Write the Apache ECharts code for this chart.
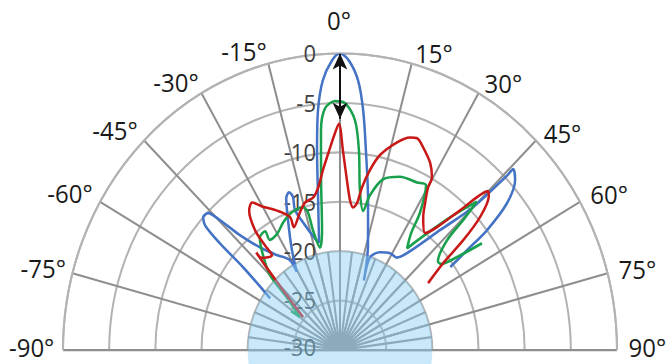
<!DOCTYPE html>
<html>
<head>
<meta charset="utf-8">
<script src="https://cdn.jsdelivr.net/npm/echarts@6/dist/echarts.min.js"></script>
<style>
html,body{margin:0;padding:0;background:#fff;overflow:hidden;}
#wrap{width:666px;height:364px;overflow:hidden;position:relative;}
#c{width:666px;height:352px;transform:scaleY(1.0706);transform-origin:0 0;}
</style>
</head>
<body>
<div id="wrap"><div id="c"></div></div>
<script>
// ---- data ----
const angleTicks = [-90, -75, -60, -45, -30, -15, 0, 15, 30, 45, 60, 75, 90];
const radiusTicks = [-30, -25, -20, -15, -10, -5, 0];

const blueAngle = [-55.3,-51.4,-50.3,-49.2,-47.8,-45.9,-44.7,-43.0,-39.8,-35.4,-30.8,-30.6,-27.2,-23.2,-20.8,-19.1,-18.2,-19.0,-16.7,-13.5,-11.8,-8.9,-7.0,-5.6,-3.9,-1.7,0,1.9,4.1,5.9,7.9,11.3,16.0,20.2,19.1,23.6,28.9,33.3,36.5,41.8,44.9,45.7,45.7,47.8,50.6,52.7,53.7,54.9];
const blueDb = [-20.8,-16.6,-13.1,-10.7,-10.0,-10.1,-11.5,-14.1,-16.5,-18.2,-19.4,-20.8,-18.6,-15.7,-13.6,-13.1,-13.7,-15.0,-16.8,-18.4,-18.9,-14.7,-9.6,-5.6,-2.65,-0.7,0,-0.7,-2.65,-5.6,-9.6,-14.5,-19.0,-22.5,-20.1,-19.2,-18.8,-18.8,-17.8,-13.7,-9.6,-4.7,-3.8,-4.4,-6.6,-10.0,-12.9,-15.4];

const greenAngle = [-53.4,-52.4,-47.0,-45.0,-41.0,-37.4,-34.0,-34.3,-30.0,-25.5,-21.5,-18.1,-15.5,-14.0,-13.6,-11.8,-9.1,-6.8,-5.3,-3.8,-1.2,1.2,4.0,5.8,7.6,10.1,11.7,15.1,20.3,26.2,29.2,31.9,33.1,35.2,38.6,41.6,44.6,45.4,46.2,49.7,51.5,53.4,54.9];
const greenDb = [-23.4,-24.5,-21.9,-19.3,-17.3,-15.7,-15.5,-16.5,-16.4,-15.7,-15.2,-15.0,-15.0,-15.6,-17.5,-19.4,-17.7,-12.7,-7.7,-5.5,-4.8,-5.0,-6.7,-9.7,-13.7,-15.7,-14.0,-12.1,-11.3,-11.1,-10.9,-13.6,-15.9,-17.4,-14.9,-12.0,-8.9,-11.3,-13.9,-16.1,-16.0,-14.2,-11.2];

const redAngle = [-50.2,-45.5,-43.4,-42.6,-42.3,-37.5,-37.5,-37.2,-34.9,-32.5,-30.1,-25.5,-21.9,-21.9,-17.3,-14.2,-10.7,-8.2,-5.8,-3.7,-1.7,-0.3,0.9,2.5,4.1,5.6,7.1,8.2,10.1,12.4,16.4,19.4,21.3,23.7,27.3,29.7,30.1,31.8,33.8,37.9,40.2,42.6,44.9,46.0,48.4,50.2,51.8,54.6];
const redDb = [-24.8,-21.3,-18.2,-16.6,-17.4,-17.9,-16.6,-14.8,-12.8,-12.3,-13.2,-14.4,-15.5,-16.6,-15.4,-14.6,-14.3,-13.4,-11.7,-10.1,-8.3,-7.1,-9.8,-12.8,-14.8,-15.5,-15.0,-13.4,-11.5,-9.8,-8.1,-7.2,-7.0,-7.6,-8.7,-9.9,-11.0,-12.5,-13.8,-15.0,-13.7,-10.8,-7.3,-7.6,-9.7,-12.6,-15.8,-18.3];

const arrowAngle = [0, 0];
const arrowDb = [0, -6.6];

const shadedDb = [-30, -20];   // shaded inner disc (from -30 dB to -20 dB)

// ---- layout (label nudges: [top, right, bottom, left]) ----
const labelPad = [
  [0, 8.6, 6.4, 0], [0, 6.4, 10.8, 0], [0, 7.4, 7.4, 0], [0, 6.4, 9.4, 0],
  [0, 2.8, 11.6, 0], [0, 48.6, 13.6, 0], [0, 2, 52.6, 0], [0, 0, 10.8, 44.6],
  [0, 0, 10, 6], [0, 0, 4.6, 7.8], [0, 0, 4.6, 10.3], [0, 0, 9.4, 11], [0, 0, 6.4, 11.6]
];

const CX = 340, CY = 327, R = 277;
const innerR = R * (shadedDb[1] - shadedDb[0]) / (radiusTicks[radiusTicks.length - 1] - radiusTicks[0]);

const pairs = (db, ang) => db.map((d, i) => [d, ang[i]]);

const rich = {};
labelPad.forEach((p, i) => {
  rich['a' + i] = { fontSize: 24, fontFamily: 'Open Sans', color: '#1a1a1a', lineHeight: 10, padding: p };
});
const radiusRich = {
  n: { fontSize: 22, fontFamily: 'Open Sans', color: '#404040' },
  low: { fontSize: 22, fontFamily: 'Open Sans', color: '#404040', lineHeight: 10, padding: [0, 0, 6, 0] }
};

const chart = echarts.init(document.getElementById('c'), null, { renderer: 'svg' });
const gridGray = '#b3b3b3';
const spokeGray = '#8e8e8e';

chart.setOption({
  animation: false,
  backgroundColor: '#fff',
  polar: [
    { center: [CX, CY], radius: [0, R] },
    { center: [CX, CY], radius: [0, innerR] },
    { center: [CX, CY], radius: [0, R] }
  ],
  angleAxis: [
    {
      polarIndex: 0, type: 'value', min: angleTicks[0], max: angleTicks[angleTicks.length - 1], interval: 15,
      startAngle: 180, endAngle: 0, clockwise: true,
      axisLine: { show: true, lineStyle: { color: gridGray, width: 2 } },
      axisTick: { show: false },
      splitLine: { show: true, lineStyle: { color: spokeGray, width: 2 } },
      axisLabel: {
        margin: 0,
        formatter: v => '{a' + angleTicks.indexOf(v) + '|' + v + '°}',
        rich: rich
      }
    },
    {
      polarIndex: 1, type: 'value', min: -90, max: 90, interval: 7.5,
      startAngle: 180, endAngle: 0, clockwise: true,
      axisLine: { show: false }, axisTick: { show: false }, axisLabel: { show: false },
      splitLine: { show: true, lineStyle: { color: spokeGray, width: 2 } }
    },
    {
      polarIndex: 2, type: 'value', min: 0, max: 360, startAngle: 90,
      axisLine: { show: false }, axisTick: { show: false }, axisLabel: { show: false }, splitLine: { show: false }
    }
  ],
  radiusAxis: [
    {
      polarIndex: 0, type: 'value', min: radiusTicks[0], max: radiusTicks[radiusTicks.length - 1], interval: 5,
      axisLine: { show: false }, axisTick: { show: false }, axisLabel: { show: false },
      splitLine: { show: true, lineStyle: { color: gridGray, width: 2 } }
    },
    {
      polarIndex: 1, type: 'value', min: 0, max: 1,
      axisLine: { show: false }, axisTick: { show: false }, axisLabel: { show: false }, splitLine: { show: false }
    },
    {
      polarIndex: 2, type: 'value', min: radiusTicks[0], max: radiusTicks[radiusTicks.length - 1], interval: 5,
      axisLine: { show: false }, axisTick: { show: false }, splitLine: { show: false },
      axisLabel: {
        margin: 24, showMinLabel: true, showMaxLabel: true,
        formatter: v => (v === radiusTicks[0] ? '{low|' + v + '}' : '{n|' + v + '}'),
        rich: radiusRich
      }
    }
  ],
  series: [
    {
      type: 'line', coordinateSystem: 'polar', polarIndex: 0, data: pairs(blueDb, blueAngle),
      smooth: 0.3, symbol: 'none', lineStyle: { color: '#4472c4', width: 2.5 }, z: 3
    },
    {
      type: 'line', coordinateSystem: 'polar', polarIndex: 0, data: pairs(greenDb, greenAngle),
      smooth: 0.3, symbol: 'none', lineStyle: { color: '#18a04c', width: 2.5 }, z: 4
    },
    {
      type: 'line', coordinateSystem: 'polar', polarIndex: 0, data: pairs(redDb, redAngle),
      smooth: 0.3, symbol: 'none', lineStyle: { color: '#c81818', width: 2.5 }, z: 5
    },
    {
      type: 'line', coordinateSystem: 'polar', polarIndex: 0,
      data: pairs(arrowDb, arrowAngle).map((d, i) => ({ value: d, symbolRotate: i === 0 ? 0 : 180 })),
      symbol: 'arrow', symbolSize: [11, 15], showSymbol: true,
      itemStyle: { color: '#111' }, lineStyle: { color: '#111', width: 2 }, z: 6
    },
    {
      type: 'pie', center: [CX, CY], radius: [0, innerR], silent: true, z: 10,
      label: { show: false }, labelLine: { show: false },
      itemStyle: { color: 'rgba(135,206,244,0.45)', borderWidth: 0 },
      data: [{ value: 1, name: 'shade' }]
    }
  ]
});
</script>
</body>
</html>
